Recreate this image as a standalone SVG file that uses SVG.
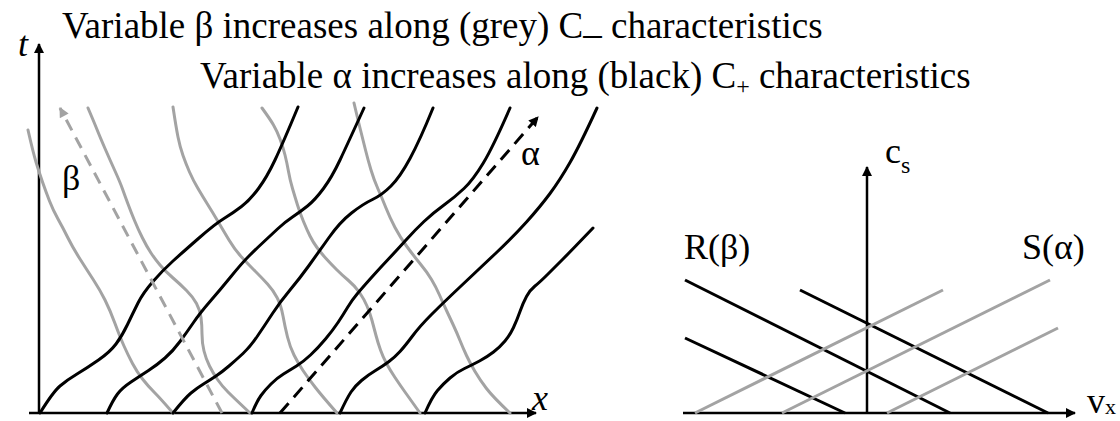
<svg xmlns="http://www.w3.org/2000/svg" width="1120" height="421" viewBox="0 0 1120 421">
<style>
text{font-family:"Liberation Serif","Times New Roman",serif;fill:#000}
.big{font-size:37px}
.lab{font-size:36px}
.k{fill:none;stroke:#000;stroke-width:3;stroke-linecap:round;stroke-linejoin:round}
.g{fill:none;stroke:#a3a3a3;stroke-width:3;stroke-linecap:round;stroke-linejoin:round}
.ax{fill:none;stroke:#000;stroke-width:2.5}
.kl{fill:none;stroke:#000;stroke-width:3}
.gl{fill:none;stroke:#a3a3a3;stroke-width:3}
</style>
<defs>
<marker id="ah" viewBox="0 0 10 10" refX="9" refY="5" markerWidth="12" markerHeight="10" markerUnits="userSpaceOnUse" orient="auto"><path d="M0,0 L10,5 L0,10 z" fill="#000"/></marker>
<marker id="ahg" viewBox="0 0 10 10" refX="9" refY="5" markerWidth="12" markerHeight="10" markerUnits="userSpaceOnUse" orient="auto"><path d="M0,0 L10,5 L0,10 z" fill="#a3a3a3"/></marker>
</defs>
<rect width="1120" height="421" fill="#fff"/>
<g id="titles">
<text class="big" x="62" y="38">Variable β increases along (grey) C<tspan dy="-5">_</tspan><tspan dy="5"> characteristics</tspan></text>
<text class="big" x="200" y="88">Variable α increases along (black) C<tspan font-size="24" dy="6">+</tspan><tspan dy="-6"> characteristics</tspan></text>
</g>
<g id="left-axes">
<line class="ax" x1="39" y1="414" x2="39" y2="44" marker-end="url(#ah)"/>
<line class="ax" x1="29" y1="413" x2="536" y2="413" marker-end="url(#ah)"/>
<text class="lab" x="18" y="56" font-style="italic">t</text>
<text class="lab" x="532" y="410" font-style="italic">x</text>
</g>
<g id="grey-characteristics">
<path class="g" d="M28,130 Q33,152 36,162 Q39,172 42.5,182 Q46,192 49.5,201 Q53,210 58,219 Q63,228 68,238 Q73,248 80,259 Q87,270 93.5,280 Q100,290 105,300 Q110,310 115,323.5 Q120,337 124,346 Q128,355 132.5,363.5 Q137,372 142.5,379 Q148,386 154,392 Q160,398 173,413"/>
<path class="g" d="M88,108 Q94,122 97,129.5 Q100,137 105,148.5 Q110,160 115,171 Q120,182 122.5,189 Q125,196 128,204 Q131,212 134.5,220.5 Q138,229 142.5,238 Q147,247 151,253 Q155,259 160,265 Q165,271 172.5,277.5 Q180,284 186.5,290.5 Q193,297 196.5,303.5 Q200,310 201,317.5 Q202,325 202,334 Q202,343 204,351 Q206,359 209.5,366 Q213,373 217.5,379.5 Q222,386 228,392 Q234,398 250,413"/>
<path class="g" d="M173,107 Q176,127 178,137 Q180,147 183,155.5 Q186,164 189.5,172 Q193,180 198,188.5 Q203,197 208,205 Q213,213 218,221.5 Q223,230 229,240 Q235,250 241.5,257 Q248,264 255,271 Q262,278 267.5,284 Q273,290 277,297.5 Q281,305 283,316 Q285,327 287.5,337 Q290,347 294,355 Q298,363 303,370.5 Q308,378 315,387 Q322,396 337,413"/>
<path class="g" d="M262,108 Q270,119 273.5,125 Q277,131 280,139 Q283,147 285,155 Q287,163 288.5,171.5 Q290,180 292.5,188.5 Q295,197 297.5,205 Q300,213 303.5,221.5 Q307,230 310,236 Q313,242 317,247.5 Q321,253 326,258.5 Q331,264 336.5,269.5 Q342,275 348.5,280.5 Q355,286 359.5,292.5 Q364,299 367,306 Q370,313 372,320.5 Q374,328 376,335.5 Q378,343 380.5,350 Q383,357 386.5,363.5 Q390,370 395,377.5 Q400,385 405,392 Q410,399 420,413"/>
<path class="g" d="M354,103 Q358,120 360.5,130 Q363,140 365.5,150 Q368,160 371,170 Q374,180 378,189 Q382,198 386,208 Q390,218 395,227.5 Q400,237 406.5,246 Q413,255 420,263.5 Q427,272 431.5,279.5 Q436,287 439.5,295 Q443,303 446.5,310.5 Q450,318 453.5,325.5 Q457,333 460,340.5 Q463,348 466.5,355.5 Q470,363 475,371.5 Q480,380 486.5,388.5 Q493,397 510,413"/>
</g>
<g id="black-characteristics">
<path class="k" d="M40,413 Q53,392 60,386 Q67,380 77,374 Q87,368 98.5,360 Q110,352 116,344 Q122,336 127.5,324.5 Q133,313 138,303 Q143,293 153,281.5 Q163,270 173,261 Q183,252 199,238 Q215,224 224,218.5 Q233,213 241.5,206.5 Q250,200 258.5,188.5 Q267,177 275,160 Q283,143 298,107"/>
<path class="k" d="M107,413 Q113,400 117.5,394 Q122,388 131,382 Q140,376 148.5,370.5 Q157,365 165,358 Q173,351 180,341.5 Q187,332 193.5,322.5 Q200,313 210,301.5 Q220,290 231,276.5 Q242,263 248.5,256.5 Q255,250 262.5,243 Q270,236 277.5,229 Q285,222 292.5,217 Q300,212 307.5,206 Q315,200 323.5,188.5 Q332,177 340,160 Q348,143 364,108"/>
<path class="k" d="M173,413 Q185,398 191,393 Q197,388 203.5,384 Q210,380 216,376 Q222,372 229,366 Q236,360 243,353.5 Q250,347 257.5,336 Q265,325 272.5,313.5 Q280,302 290,290 Q300,278 309,265.5 Q318,253 329,237.5 Q340,222 351.5,213 Q363,204 372.5,199.5 Q382,195 391,186 Q400,177 410,158.5 Q420,140 433,108"/>
<path class="k" d="M252,413 Q257,401 261,395.5 Q265,390 271,384 Q277,378 283.5,374 Q290,370 296.5,366 Q303,362 310.5,355 Q318,348 325.5,339 Q333,330 338,322.5 Q343,315 347.5,307.5 Q352,300 357.5,293.5 Q363,287 371.5,277.5 Q380,268 388.5,259 Q397,250 406,240 Q415,230 424,221.5 Q433,213 444,205 Q455,197 464,188.5 Q473,180 483,163.5 Q493,147 510,108"/>
<path class="k" d="M340,413 Q347,398 351,392 Q355,386 361.5,380.5 Q368,375 375.5,370.5 Q383,366 389,361.5 Q395,357 400,351.5 Q405,346 412.5,336 Q420,326 431.5,314.5 Q443,303 460.5,286.5 Q478,270 495.5,253.5 Q513,237 526.5,222 Q540,207 550,193.5 Q560,180 570,162.5 Q580,145 597,108"/>
<path class="k" d="M425,413 Q432,397 437.5,390.5 Q443,384 450,378 Q457,372 464.5,368.5 Q472,365 479.5,361 Q487,357 493.5,352 Q500,347 505,341 Q510,335 513.5,327.5 Q517,320 520,311.5 Q523,303 526.5,296.5 Q530,290 535,286 Q540,282 547.5,274.5 Q555,267 562.5,259.5 Q570,252 593,228"/>
</g>
<g id="direction-arrows">
<line x1="222" y1="413" x2="60" y2="108" stroke="#a3a3a3" stroke-width="3" stroke-dasharray="12 8" marker-end="url(#ahg)"/>
<line x1="280" y1="413" x2="538" y2="117" stroke="#000" stroke-width="3" stroke-dasharray="13 8" marker-end="url(#ah)"/>
<text class="lab" x="62" y="190">β</text>
<text class="lab" x="521" y="165">α</text>
</g>
<g id="right-axes">
<line class="ax" x1="867" y1="414" x2="867" y2="167" marker-end="url(#ah)"/>
<line class="ax" x1="683" y1="413" x2="1075" y2="413" marker-end="url(#ah)"/>
<text class="lab" x="885" y="163">c<tspan font-size="24" dy="10">s</tspan></text>
<text class="lab" x="1087" y="413">v<tspan font-size="22" dy="1">x</tspan></text>
</g>
<g id="R-lines">
<line class="kl" x1="685" y1="280" x2="950" y2="413"/>
<line class="kl" x1="685" y1="338" x2="845" y2="413"/>
<line class="kl" x1="800" y1="290" x2="1048" y2="413"/>
</g>
<g id="S-lines">
<line class="gl" x1="695" y1="413" x2="943" y2="290"/>
<line class="gl" x1="782" y1="413" x2="1050" y2="280"/>
<line class="gl" x1="887" y1="413" x2="1058" y2="328"/>
</g>
<g id="labels-right">
<text class="lab" x="684" y="259">R(β)</text>
<text class="lab" x="1022" y="259">S(α)</text>
</g>
</svg>
